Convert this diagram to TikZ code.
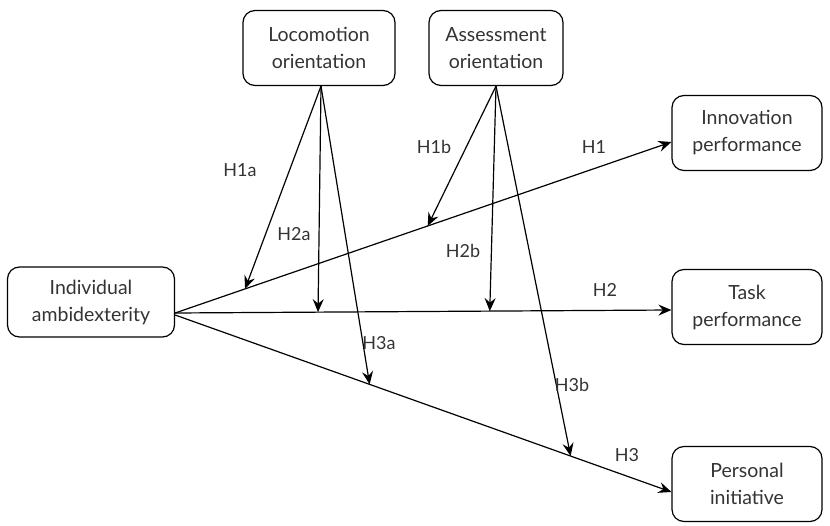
\documentclass[tikz,border=0pt]{standalone}
\usepackage{fontspec}
\setmainfont{Lato}
\usetikzlibrary{arrows.meta}
\begin{document}
\begin{tikzpicture}[x=1pt,y=-1pt,
  box/.style={draw,rounded corners=12pt,line width=1.2pt,minimum width=152pt,minimum height=75pt,align=center,font=\fontsize{19.5}{27}\selectfont,text=black!80},
  arr/.style={line width=1.2pt,-{Stealth[length=13pt,width=11pt,inset=4.5pt]}},
  lab/.style={font=\fontsize{18}{21}\selectfont,text=black!80}]
\useasboundingbox (0,0) rectangle (830,526);
\node[box] (loco) at (319,48) {Locomotion\\orientation};
\node[box,minimum width=134pt] (assess) at (496,48) {Assessment\\orientation};
\node[box,minimum width=167pt,minimum height=70pt] (ind) at (91,302) {Individual\\ambidexterity};
\node[box,minimum width=150pt] (innov) at (747,133) {Innovation\\performance};
\node[box,minimum width=150pt] (task) at (747,307) {Task\\performance};
\node[box,minimum width=150pt] (pers) at (747,484) {Personal\\initiative};
\coordinate (src) at ([yshift=-11pt]ind.east);
\coordinate (lsrc) at ([xshift=2pt]loco.south);
\coordinate (asrc) at (assess.south);
\coordinate (t1) at ([yshift=-9pt]innov.west);
\coordinate (t2) at ([yshift=-3pt]task.west);
\coordinate (t3) at ([yshift=-8pt]pers.west);
\draw[arr] (src) -- (t1) coordinate[pos=0.141] (h1a) coordinate[pos=0.509] (h1b);
\draw[arr] (src) -- (t2) coordinate[pos=0.288] (h2a) coordinate[pos=0.634] (h2b);
\draw[arr] ([yshift=-2pt]src) -- (t3) coordinate[pos=0.392] (h3a) coordinate[pos=0.797] (h3b);
\draw[arr] (lsrc) -- (h1a);
\draw[arr] (lsrc) -- (h2a);
\draw[arr] (lsrc) -- (h3a);
\draw[arr] (asrc) -- (h1b);
\draw[arr] (asrc) -- (h2b);
\draw[arr] (asrc) -- (h3b);
\node[lab] (l1a) at (240,170) {H1a};
\node[lab] (l2a) at (294,234) {H2a};
\node[lab] (l3a) at (379,343) {H3a};
\node[lab] (l1b) at (434,147) {H1b};
\node[lab] (l2b) at (463,251) {H2b};
\node[lab] (l3b) at (572,385) {H3b};
\node[lab] (l1) at (594,147) {H1};
\node[lab] (l2) at (605,290) {H2};
\node[lab] (l3) at (627,455) {H3};
\end{tikzpicture}
\end{document}
